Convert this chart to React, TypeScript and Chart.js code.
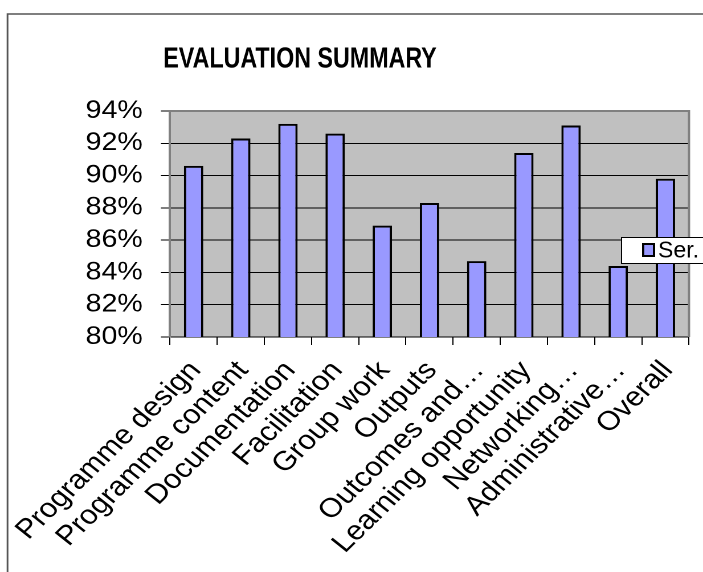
import React, { useEffect, useRef } from "react";
import { Chart, registerables } from "chart.js";

Chart.register(...registerables);

const categories: string[] = [
  "Programme design",
  "Programme content",
  "Documentation",
  "Facilitation",
  "Group work",
  "Outputs",
  "Outcomes and…",
  "Learning opportunity",
  "Networking…",
  "Administrative…",
  "Overall",
];
const seriesValues: number[] = [90.6, 92.3, 93.2, 92.6, 86.9, 88.3, 84.7, 91.4, 93.1, 84.4, 89.8];
const seriesLabel = "Ser.";
const chartTitle = "EVALUATION SUMMARY";
const yTickValues: number[] = [80, 82, 84, 86, 88, 90, 92, 94];

const SX = 1.14;
const PAGE_W = 703;
const PAGE_H = 572;
const IW = Math.round(PAGE_W / SX);
const FONT = "Arial, 'Liberation Sans', sans-serif";

const decorPlugin = {
  id: "decor",
  beforeDraw(chart: any) {
    const { ctx, chartArea } = chart;
    ctx.save();
    ctx.fillStyle = "#ffffff";
    ctx.fillRect(0, 0, chart.width, chart.height);
    ctx.strokeStyle = "#555555";
    ctx.lineWidth = 1.5;
    ctx.beginPath();
    ctx.moveTo(6.6, chart.height + 5);
    ctx.lineTo(6.6, 14);
    ctx.lineTo(chart.width + 5, 14);
    ctx.stroke();
    ctx.fillStyle = "#C0C0C0";
    ctx.fillRect(chartArea.left, chartArea.top, chartArea.right - chartArea.left, chartArea.bottom - chartArea.top);
    ctx.restore();
  },
  afterDraw(chart: any) {
    const { ctx, chartArea } = chart;
    ctx.save();
    ctx.strokeStyle = "#808080";
    ctx.lineWidth = 2;
    ctx.beginPath();
    ctx.moveTo(chartArea.left, chartArea.top);
    ctx.lineTo(chartArea.right, chartArea.top);
    ctx.lineTo(chartArea.right, chartArea.bottom);
    ctx.stroke();
    // title
    ctx.fillStyle = "#000";
    ctx.font = `bold 29px ${FONT}`;
    ctx.textBaseline = "alphabetic";
    ctx.textAlign = "center";
    const tw = ctx.measureText(chartTitle).width;
    const target = 240;
    ctx.save();
    ctx.translate(263.3, 67.5);
    ctx.scale(target / tw, 1);
    ctx.fillText(chartTitle, 0, 0);
    ctx.restore();
    // legend
    const lx = 545, ly = 237, lh = 26;
    ctx.fillStyle = "#fff";
    ctx.fillRect(lx, ly, chart.width - lx + 5, lh);
    ctx.strokeStyle = "#000";
    ctx.lineWidth = 1;
    ctx.strokeRect(lx + 0.5, ly + 0.5, chart.width - lx + 5, lh);
    ctx.fillStyle = "#9999FF";
    ctx.fillRect(564.5, 244, 9.5, 12);
    ctx.strokeStyle = "#000";
    ctx.lineWidth = 2;
    ctx.strokeRect(564.5, 244, 9.5, 12);
    ctx.fillStyle = "#000";
    ctx.font = `23px ${FONT}`;
    ctx.textAlign = "left";
    ctx.textBaseline = "middle";
    const lw = ctx.measureText(seriesLabel).width;
    ctx.save();
    ctx.translate(577.5, 251);
    ctx.scale(36 / lw, 1);
    ctx.fillText(seriesLabel, 0, 0);
    ctx.restore();
    ctx.restore();
  },
};

export default function App() {
  const ref = useRef<HTMLCanvasElement | null>(null);
  useEffect(() => {
    if (!ref.current) return;
    const chart = new Chart(ref.current, {
      type: "bar",
      data: {
        labels: categories,
        datasets: [
          {
            label: seriesLabel,
            data: seriesValues,
            backgroundColor: "#9999FF",
            borderColor: "#000000",
            borderWidth: 2,
            barPercentage: 0.41,
            categoryPercentage: 1,
          },
        ],
      },
      options: {
        animation: false,
        responsive: true,
        maintainAspectRatio: false,
        devicePixelRatio: 2,
        layout: { padding: { top: 111, right: 12.3, left: 0, bottom: 0 } },
        plugins: {
          legend: { display: false },
          title: { display: false },
          tooltip: { enabled: false },
        },
        scales: {
          x: {
            grid: {
              offset: true,
              drawOnChartArea: false,
              drawTicks: true,
              tickLength: 8,
              color: "#000",
            },
            border: { display: true, color: "#000", width: 1 },
            ticks: {
              minRotation: 48,
              maxRotation: 48,
              autoSkip: false,
              padding: 10,
              labelOffset: 2,
              color: "#000",
              font: { family: FONT, size: 27 },
            },
            afterFit(scale: any) {
              scale.height = PAGE_H - 337;
              scale.paddingLeft = 0;
              scale.paddingRight = 0;
            },
          },
          y: {
            min: 80,
            max: 94,
            afterBuildTicks(scale: any) {
              scale.ticks = yTickValues.map((v) => ({ value: v }));
            },
            grid: { color: "#000", lineWidth: 1, tickLength: 8, drawTicks: true },
            border: { display: true, color: "#808080", width: 2 },
            ticks: {
              autoSkip: false,
              padding: 16,
              color: "#000",
              font: { family: FONT, size: 25 },
              callback: (v: any) => `${v}%`,
            },
            afterFit(scale: any) {
              scale.width = 149.2;
              scale.paddingTop = 0;
              scale.paddingBottom = 0;
            },
          },
        },
      },
      plugins: [decorPlugin],
    });
    return () => chart.destroy();
  }, []);
  return (
    <div
      style={{
        position: "fixed",
        left: 0,
        top: 0,
        width: IW,
        height: PAGE_H,
        transform: `scaleX(${PAGE_W / IW})`,
        transformOrigin: "0 0",
        overflow: "hidden",
      }}
    >
      <canvas ref={ref} />
    </div>
  );
}
